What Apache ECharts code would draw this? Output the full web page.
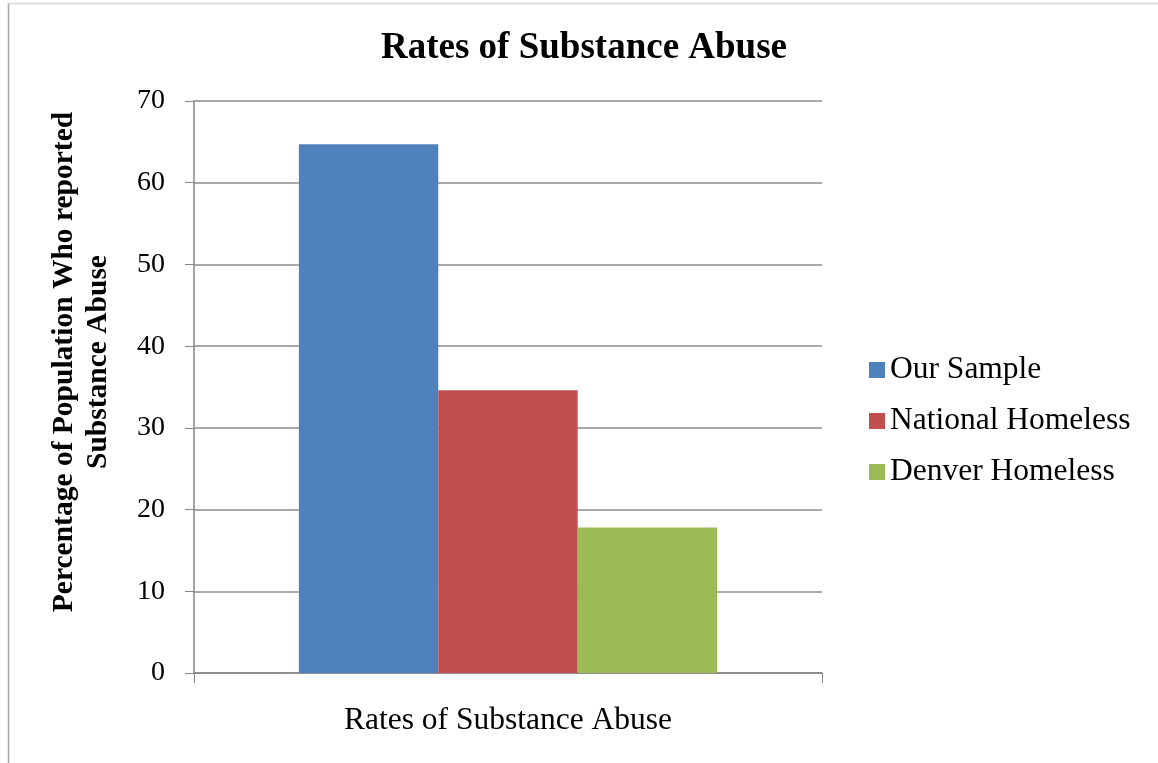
<!DOCTYPE html>
<html>
<head>
<meta charset="utf-8">
<script src="https://cdn.jsdelivr.net/npm/echarts@6/dist/echarts.min.js"></script>
<style>
html,body{margin:0;padding:0;background:#fff;}
#chart{width:1158px;height:763px;}
</style>
</head>
<body>
<div id="chart"></div>
<script>
const categories = ['Rates of Substance Abuse'];
const seriesNames = ['Our Sample', 'National Homeless', 'Denver Homeless'];
const ourSample = [64.7];
const nationalHomeless = [34.6];
const denverHomeless = [17.8];
const yTicks = { min: 0, max: 70, interval: 10 };
const colors = ['#4F81BD', '#C0504D', '#9BBB59'];

const serif = '"Liberation Serif", "Times New Roman", serif';
const chart = echarts.init(document.getElementById('chart'));
const dataSets = [ourSample, nationalHomeless, denverHomeless];

chart.setOption({
  animation: false,
  backgroundColor: '#ffffff',
  title: {
    text: 'Rates of Substance Abuse',
    left: 579,
    textAlign: 'center',
    top: 25,
    textStyle: { fontFamily: serif, fontSize: 37, fontWeight: 'bold', color: '#000' }
  },
  legend: {
    orient: 'vertical',
    left: 864,
    top: 349,
    itemWidth: 16,
    itemHeight: 16,
    itemGap: 19,
    itemStyle: { borderWidth: 0 },
    icon: 'rect',
    textStyle: { fontFamily: serif, fontSize: 31.5, lineHeight: 32, color: '#000' },
    data: seriesNames
  },
  grid: { left: 194, right: 336, top: 101, bottom: 90, containLabel: false },
  xAxis: {
    type: 'category',
    data: categories,
    axisLine: { show: true, lineStyle: { color: '#868686', width: 1.5 } },
    axisTick: { show: true, length: 10, lineStyle: { color: '#868686' } },
    axisLabel: { fontFamily: serif, fontSize: 31.5, color: '#000', margin: 32 },
    splitLine: { show: false }
  },
  yAxis: {
    type: 'value',
    min: yTicks.min,
    max: yTicks.max,
    interval: yTicks.interval,
    axisLine: { show: true, lineStyle: { color: '#868686', width: 1.5 } },
    axisTick: { show: true, length: 9, lineStyle: { color: '#868686' } },
    axisLabel: { fontFamily: serif, fontSize: 28, color: '#000', margin: 29 },
    splitLine: { show: true, lineStyle: { color: '#8c8c8c', width: 1.5 } }
  },
  graphic: [
    { type: 'line', shape: { x1: 8.5, y1: 3, x2: 8.5, y2: 763 }, style: { stroke: '#a6a6a6', lineWidth: 1.5 } },
    { type: 'line', shape: { x1: 8, y1: 3.5, x2: 1158, y2: 3.5 }, style: { stroke: '#d4d4d4', lineWidth: 1.5 } },
    {
      type: 'text',
      x: 81,
      y: 362,
      rotation: Math.PI / 2,
      style: {
        text: 'Percentage of Population Who reported\nSubstance Abuse',
        fontFamily: serif,
        fontSize: 29.5,
        fontWeight: 'bold',
        lineHeight: 34,
        fill: '#000',
        align: 'center',
        verticalAlign: 'middle'
      }
    }
  ],
  series: seriesNames.map((name, i) => ({
    name: name,
    type: 'bar',
    data: dataSets[i],
    itemStyle: { color: colors[i] },
    barGap: '0%',
    barCategoryGap: '33.4%'
  }))
});
</script>
</body>
</html>
